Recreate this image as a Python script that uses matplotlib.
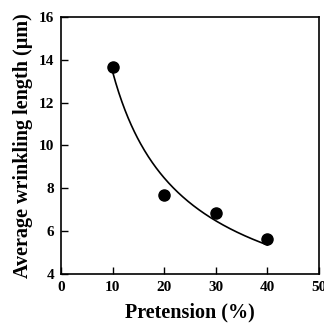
import numpy as np
import matplotlib
matplotlib.use('Agg')
import matplotlib.pyplot as plt

pretension = np.array([10, 20, 30, 40])
wrinkle_len = np.array([13.65, 7.7, 6.85, 5.62])

x_ticks = [0, 10, 20, 30, 40, 50]
y_ticks = [4, 6, 8, 10, 12, 14, 16]

plt.rcParams['font.family'] = 'Liberation Serif'
plt.rcParams['font.weight'] = 'bold'

fig = plt.figure(figsize=(3.24, 3.26), dpi=100)
ax = fig.add_axes([0.188, 0.16, 0.797, 0.788])

# power-law fit y = a*x^b, least squares in linear space
best = None
for b in np.linspace(-2, -0.1, 381):
    basis = pretension ** b
    a = np.dot(basis, wrinkle_len) / np.dot(basis, basis)
    err = np.sum((a * basis - wrinkle_len) ** 2)
    if best is None or err < best[0]:
        best = (err, a, b)
_, a, b = best
xf = np.linspace(10, 40, 200)
ax.plot(xf, a * xf ** b, color='black', lw=1.2)
ax.plot(pretension, wrinkle_len, 'o', color='black', ms=8)

ax.set_xlim(0, 50)
ax.set_ylim(4, 16)
ax.set_xticks(x_ticks)
ax.set_yticks(y_ticks)
ax.tick_params(direction='in', length=5, width=1, labelsize=11, pad=5)
for s in ax.spines.values():
    s.set_linewidth(1.2)

ax.set_xlabel('Pretension (%)', fontsize=14.5, fontweight='bold', labelpad=6)
ax.set_ylabel('Average wrinkling length (μm)', fontsize=14.5, fontweight='bold', labelpad=4)

fig.savefig('out.png', dpi=100)
